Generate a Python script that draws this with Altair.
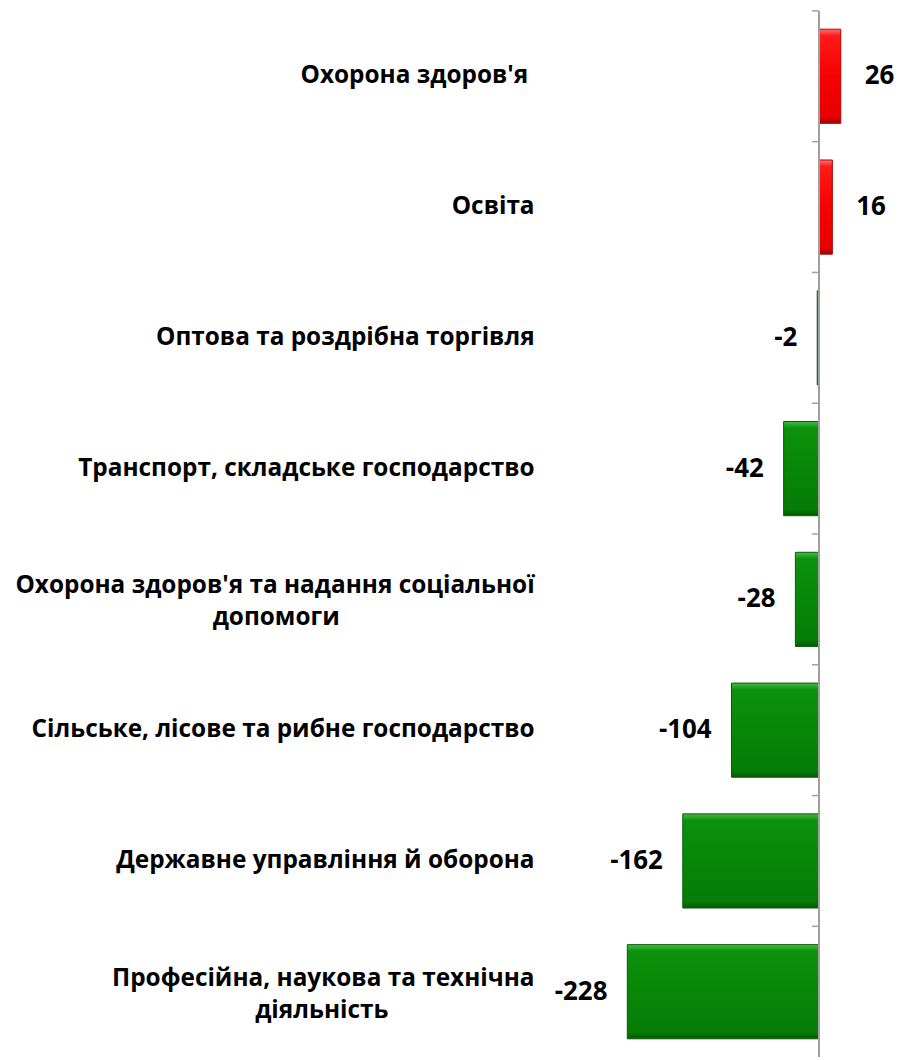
import altair as alt
import pandas as pd

# --- data ---
categories = [
    "Охорона здоров'я ",
    "Освіта",
    "Оптова та роздрібна торгівля",
    "Транспорт, складське господарство",
    "Охорона здоров'я та надання соціальної|допомоги",
    "Сільське, лісове та рибне господарство",
    "Державне управління й оборона",
    "Професійна, наукова та технічна|діяльність",
]
values = [26, 16, -2, -42, -28, -104, -162, -228]

# padding (en spaces + zero-width space so it is not trimmed) so that
# second lines sit centred under the first lines
EN = "\u2002"
ZW = "\u200b"
second_line_pad = {4: 16, 7: 12}
display = []
for i, c in enumerate(categories):
    if i in second_line_pad:
        display.append(c + EN * second_line_pad[i] + ZW)
    elif c.endswith(" "):
        display.append(c + ZW)
    else:
        display.append(c)

df = pd.DataFrame({
    "cat": display,
    "value": values,
    "label": [str(v) for v in values],
})

H = 1052
N = len(categories)
STEP = H / N
P = 0.28
LH = 32

y_enc = dict(
    field="cat", type="nominal", sort=display,
    scale=alt.Scale(paddingInner=P, paddingOuter=P / 2),
    axis=alt.Axis(
        title=None, domain=False, ticks=False,
        labelExpr="split(datum.label, '|')",
        labelFont="Open Sans", labelFontSize=24.5, labelFontWeight="bold",
        labelColor="#000000", labelPadding=16, labelLimit=700,
        labelLineHeight=LH,
        labelOffset={"condition": {"test": "indexof(datum.value, '|') >= 0",
                                   "value": -13},
                     "value": 0},
    ),
)
x_enc = alt.X("value:Q", scale=alt.Scale(domain=[-320, 80], nice=False), axis=None)

red_grad = alt.Gradient(
    gradient="linear", x1=0, x2=0, y1=0, y2=1,
    stops=[
        alt.GradientStop(offset=0, color="#FF7070"),
        alt.GradientStop(offset=0.07, color="#FF1A1A"),
        alt.GradientStop(offset=0.5, color="#F80000"),
        alt.GradientStop(offset=0.93, color="#E80000"),
        alt.GradientStop(offset=1, color="#A00000"),
    ],
)
green_grad = alt.Gradient(
    gradient="linear", x1=0, x2=0, y1=0, y2=1,
    stops=[
        alt.GradientStop(offset=0, color="#45BC45"),
        alt.GradientStop(offset=0.07, color="#0C920C"),
        alt.GradientStop(offset=0.5, color="#078707"),
        alt.GradientStop(offset=0.93, color="#067C06"),
        alt.GradientStop(offset=1, color="#045A04"),
    ],
)

base = alt.Chart(df)

pos_bars = base.transform_filter("datum.value > 0").mark_bar(
    color=red_grad, stroke="#B00000", strokeWidth=1
).encode(x=x_enc, y=alt.Y(**y_enc))

neg_bars = base.transform_filter("datum.value < 0").mark_bar(
    color=green_grad, stroke="#0A5A0A", strokeWidth=1
).encode(x=x_enc, y=alt.Y(**y_enc))

zero_line = base.mark_rule(color="#A0A0A0", strokeWidth=1.5).encode(
    x=alt.datum(0)
)

ticks = base.mark_rule(
    color="#A0A0A0", strokeWidth=1.5, yOffset=-P / 2 * STEP, x2Offset=-7
).encode(
    x=alt.datum(0), x2=alt.datum(0),
    y=alt.Y(bandPosition=0, **y_enc),
)

text_style = dict(font="Open Sans", fontSize=26, fontWeight="bold", color="#000000")

pos_text = base.transform_filter("datum.value > 0").mark_text(
    align="left", baseline="middle", dx=24, **text_style
).encode(x="value:Q", y=alt.Y(**y_enc), text="label:N")

neg_text = base.transform_filter("datum.value < 0").mark_text(
    align="right", baseline="middle", dx=-20, **text_style
).encode(x="value:Q", y=alt.Y(**y_enc), text="label:N")

chart = alt.layer(
    pos_bars, neg_bars, zero_line, ticks, pos_text, neg_text
).properties(
    width=338, height=H,
    padding={"left": 545, "top": 0, "right": 25, "bottom": 0},
    autosize=alt.AutoSizeParams(type="none"),
).configure_view(stroke=None)

chart.save("out.html", embed_options={"renderer": "svg", "actions": False})
